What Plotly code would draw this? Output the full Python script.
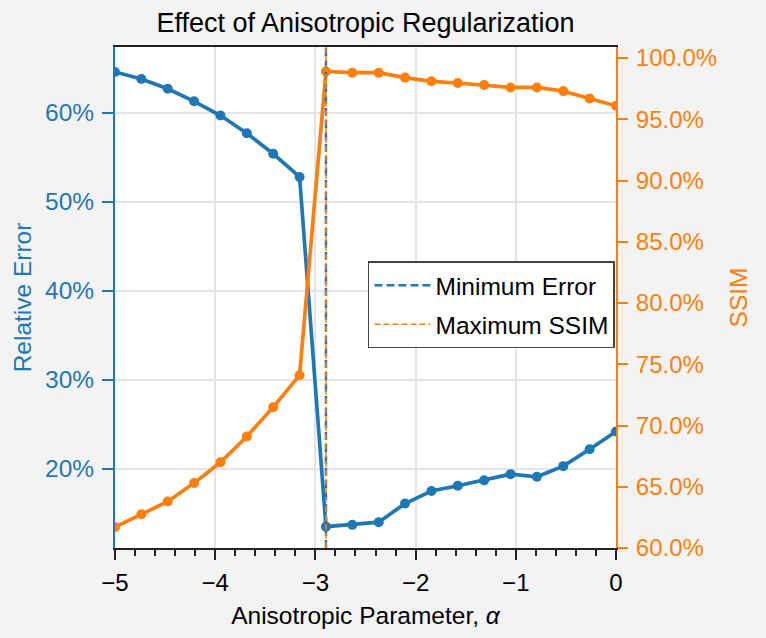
import numpy as np
import plotly.graph_objects as go

alpha = np.linspace(-5, 0, 20)
rel_error = [0.646, 0.638, 0.627, 0.613, 0.597, 0.577, 0.554, 0.528,
             0.135, 0.137, 0.140, 0.161, 0.175, 0.181, 0.187, 0.194,
             0.191, 0.203, 0.222, 0.242]
ssim = [0.617, 0.6275, 0.638, 0.653, 0.670, 0.691, 0.715, 0.741,
        0.989, 0.988, 0.988, 0.984, 0.981, 0.9796, 0.978, 0.976,
        0.976, 0.973, 0.967, 0.961]

BLUE = "#1f77b4"
ORANGE = "#ff7f0e"
y1_range = [0.111, 0.674]
y2_range = [0.60, 1.009]

i_min = int(np.argmin(rel_error))
i_max = int(np.argmax(ssim))

FONT = "Liberation Sans"
GRID = "#e4e4e4"

fig = go.Figure()
fig.add_trace(go.Scatter(x=alpha, y=rel_error, mode="lines+markers",
                         line=dict(color=BLUE, width=3.7), marker=dict(size=10, color=BLUE),
                         showlegend=False, yaxis="y"))
fig.add_trace(go.Scatter(x=alpha, y=ssim, mode="lines+markers",
                         line=dict(color=ORANGE, width=3.7), marker=dict(size=10, color=ORANGE),
                         showlegend=False, yaxis="y2"))
fig.add_trace(go.Scatter(x=[alpha[i_min]] * 2, y=y2_range, mode="lines",
                         line=dict(color=BLUE, width=2.5, dash="8px,4px"),
                         name="Minimum Error", legendgroup="a", yaxis="y2"))
fig.add_trace(go.Scatter(x=[alpha[i_max]] * 2, y=y2_range, mode="lines",
                         line=dict(color=ORANGE, width=1.5, dash="6px,3px"),
                         name="Maximum SSIM", legendgroup="b", yaxis="y2"))

fig.update_layout(
    width=766, height=638,
    margin=dict(l=115, r=150, t=47, b=90),
    paper_bgcolor="#f3f3f3", plot_bgcolor="white",
    font=dict(family=FONT, size=24, color="black"),
    title=dict(text="Effect of Anisotropic Regularization", x=0.5, xref="paper",
               xanchor="center", y=0.965, yanchor="middle", font=dict(size=27)),
    xaxis=dict(range=[-5, 0], dtick=1, tick0=-5, showline=True, linecolor="#222",
               linewidth=2, mirror=True, ticks="outside", ticklen=10, tickwidth=2,
               tickcolor="#222", showgrid=True, gridcolor=GRID, gridwidth=1.5,
               zeroline=False, tickfont=dict(size=24), ticklabelstandoff=2,
               minor=dict(dtick=0.2, ticks="outside", ticklen=6, tickwidth=1.5,
                          tickcolor="#222", showgrid=False),
               title=dict(text="Anisotropic Parameter, <i>α</i>", font=dict(size=24.5), standoff=12)),
    yaxis=dict(range=y1_range, dtick=0.1, tick0=0.2, tickformat=".0%", showline=True,
               linecolor=BLUE, linewidth=2, ticks="outside", ticklen=11, tickcolor=BLUE,
               tickwidth=2, showgrid=True, gridcolor=GRID, gridwidth=1.5, zeroline=False,
               tickfont=dict(size=24.5, color=BLUE), ticklabelstandoff=3,
               title=dict(text="Relative Error", font=dict(size=24.5, color=BLUE), standoff=6)),
    yaxis2=dict(range=y2_range, dtick=0.05, tick0=0.6, tickformat=".1%", overlaying="y",
                side="right", showline=True, linecolor=ORANGE, linewidth=2,
                ticks="outside", ticklen=10, tickcolor=ORANGE, tickwidth=2,
                showgrid=False, zeroline=False, tickfont=dict(size=24, color=ORANGE),
                ticklabelstandoff=3,
                title=dict(text="SSIM", font=dict(size=24.5, color=ORANGE), standoff=14)),
    legend=dict(x=0.998, xanchor="right", y=0.572, yanchor="top", bgcolor="white",
                bordercolor="#444", borderwidth=1.5, font=dict(size=24.5),
                itemwidth=56, tracegroupgap=4),
)

fig.write_html("out.html")
